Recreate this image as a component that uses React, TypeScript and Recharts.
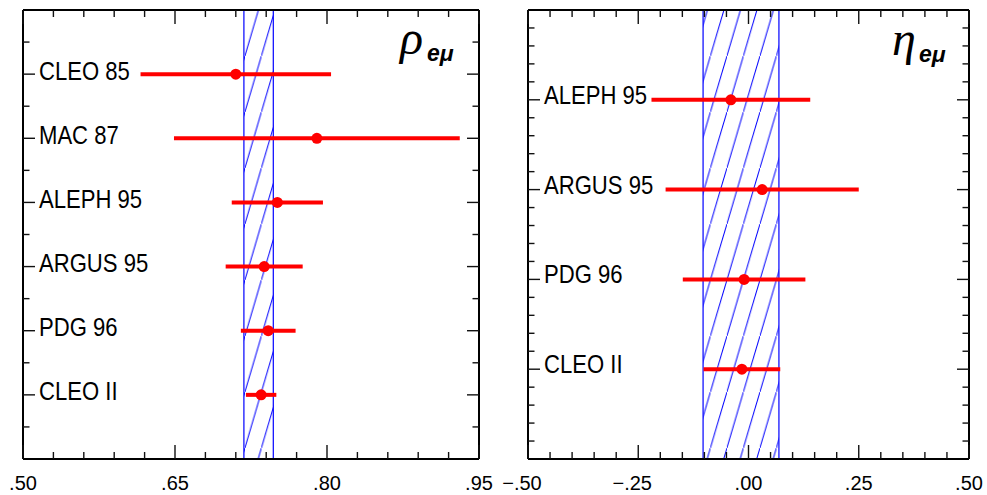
import { ScatterChart, Scatter, XAxis, YAxis, ErrorBar, ReferenceArea } from "recharts";

// ρ_eμ panel
const rhoNames = ["CLEO 85", "MAC 87", "ALEPH 95", "ARGUS 95", "PDG 96", "CLEO II"];
const rhoValues = [0.71, 0.79, 0.751, 0.738, 0.742, 0.735];
const rhoErrors = [0.094, 0.141, 0.045, 0.038, 0.027, 0.015];
const rhoBand = [0.718, 0.747];
const rhoXTicks = [0.5, 0.53, 0.56, 0.59, 0.62, 0.65, 0.68, 0.71, 0.74, 0.77, 0.8, 0.83, 0.86, 0.89, 0.92, 0.95];
const rhoXMajor = [0.5, 0.65, 0.8, 0.95];
const rhoXLabels = [".50", ".65", ".80", ".95"];
const rhoYTicks = [0.5, 1, 1.5, 2, 2.5, 3, 3.5, 4, 4.5, 5, 5.5, 6, 6.5];

// η_eμ panel
const etaNames = ["ALEPH 95", "ARGUS 95", "PDG 96", "CLEO II"];
const etaValues = [-0.04, 0.031, -0.01, -0.015];
const etaErrors = [0.18, 0.219, 0.139, 0.087];
const etaBand = [-0.103, 0.069];
const etaXTicks = [-0.5, -0.45, -0.4, -0.35, -0.3, -0.25, -0.2, -0.15, -0.1, -0.05, 0, 0.05, 0.1, 0.15, 0.2, 0.25, 0.3, 0.35, 0.4, 0.45, 0.5];
const etaXMajor = [-0.5, -0.25, 0, 0.25, 0.5];
const etaXLabels = ["−.50", "−.25", ".00", ".25", ".50"];
const etaYTicks = [0.2, 0.4, 0.6, 0.8, 1, 1.2, 1.4, 1.6, 1.8, 2, 2.2, 2.4, 2.6, 2.8, 3, 3.2, 3.4, 3.6, 3.8, 4, 4.2, 4.4, 4.6, 4.8];

const FONT = "'Liberation Sans', Arial, sans-serif";
const TICK = "#111";

const findIdx = (v: number, list: number[]) => list.findIndex((m) => Math.abs(m - v) < 1e-6);

const xTick = (side: "top" | "bottom", majors: number[], labels: string[]) => (p: any) => {
  const i = findIdx(p.payload.value, majors);
  const len = i >= 0 ? 14 : 7;
  const dir = side === "bottom" ? -1 : 1;
  const label = i >= 0 ? labels[i] : "";
  return (
    <g>
      <line x1={p.x} x2={p.x} y1={p.y} y2={p.y + dir * len} stroke={TICK} strokeWidth={1.4} />
      {side === "bottom" && label && (
        <text x={p.x + (label.startsWith("−") ? -6 : 0)} y={p.y + 31} textAnchor="middle" fontSize={20} fontFamily={FONT} fill="#000">
          {label}
        </text>
      )}
    </g>
  );
};

const yTick = (side: "left" | "right", names: string[], dx: number, dy: number) => (p: any) => {
  const v = p.payload.value;
  const row = Math.abs(v - Math.round(v)) < 1e-6 ? Math.round(v) : 0;
  const len = row ? 12 : 6.5;
  const dir = side === "left" ? 1 : -1;
  const name = side === "left" && row > 0 ? names[row - 1] : undefined;
  return (
    <g>
      <line x1={p.x} x2={p.x + dir * len} y1={p.y} y2={p.y} stroke={TICK} strokeWidth={1.4} />
      {name && (
        <text transform={`translate(${p.x + dx},${p.y + dy}) scale(0.85,1)`} fontSize={26} fontFamily={FONT} fill="#000">
          {name}
        </text>
      )}
    </g>
  );
};

const dot = (p: any) => <circle cx={p.cx} cy={p.cy} r={5.5} fill="#ff0000" />;

interface PanelProps {
  id: string;
  left: number;
  names: string[];
  values: number[];
  errors: number[];
  band: number[];
  xDomain: [number, number];
  xTicks: number[];
  xMajor: number[];
  xLabels: string[];
  yMax: number;
  yTicks: number[];
  leftW: number;
  rightW: number;
  labelDy: number;
  hatchX: number;
  symbol: string;
  symbolX: number;
  symbolY: number;
}

function Panel(props: PanelProps) {
  const data = props.names.map((name, i) => ({ name, x: props.values[i], y: i + 1, err: props.errors[i] }));
  const axisLine = { stroke: "#000", strokeWidth: 2 };
  return (
    <div style={{ position: "absolute", left: props.left, top: 0 }}>
      <ScatterChart width={500} height={495} margin={{ top: 0, right: 0, bottom: 0, left: 0 }}>
        <defs>
          <pattern id={`hatch-${props.id}`} patternUnits="userSpaceOnUse" x={props.hatchX} y={0} width={16.5} height={56}>
            <line x1={-1.65} y1={61.6} x2={18.15} y2={-5.6} stroke="#0000ff" strokeWidth={1} />
          </pattern>
        </defs>
        <XAxis xAxisId="b" dataKey="x" type="number" domain={props.xDomain} ticks={props.xTicks} interval={0} allowDataOverflow
          height={36} tickSize={0} tickMargin={0} tickLine={false} axisLine={axisLine} tick={xTick("bottom", props.xMajor, props.xLabels)} />
        <XAxis xAxisId="t" orientation="top" dataKey="x" type="number" domain={props.xDomain} ticks={props.xTicks} interval={0} allowDataOverflow
          height={10} tickSize={0} tickMargin={0} tickLine={false} axisLine={axisLine} tick={xTick("top", props.xMajor, props.xLabels)} />
        <YAxis yAxisId="l" dataKey="y" type="number" domain={[0, props.yMax]} reversed ticks={props.yTicks} interval={0} allowDataOverflow
          width={props.leftW} tickSize={0} tickMargin={0} tickLine={false} axisLine={axisLine} tick={yTick("left", props.names, 16, props.labelDy)} />
        <YAxis yAxisId="r" orientation="right" dataKey="y" type="number" domain={[0, props.yMax]} reversed ticks={props.yTicks} interval={0} allowDataOverflow
          width={props.rightW} tickSize={0} tickMargin={0} tickLine={false} axisLine={axisLine} tick={yTick("right", props.names, 0, 0)} />
        <ReferenceArea xAxisId="b" yAxisId="l" x1={props.band[0]} x2={props.band[1]} y1={0} y2={props.yMax}
          fill={`url(#hatch-${props.id})`} fillOpacity={1} stroke="#0000ff" strokeWidth={1.2} />
        <Scatter data={data} xAxisId="b" yAxisId="l" shape={dot} isAnimationActive={false}>
          <ErrorBar dataKey="err" direction="x" width={0} stroke="#ff0000" strokeWidth={4} isAnimationActive={false} />
        </Scatter>
        <text x={props.symbolX} y={props.symbolY} fontFamily="'Liberation Serif', 'DejaVu Serif', serif" fontStyle="italic" fontSize={48} fill="#000">
          {props.symbol}
        </text>
        <text x={props.symbolX + 27} y={props.symbolY + 7} fontFamily={FONT} fontStyle="italic" fontWeight="bold" fontSize={23} fill="#000">
          eμ
        </text>
      </ScatterChart>
    </div>
  );
}

export default function App() {
  return (
    <div style={{ position: "absolute", left: 0, top: 0, width: 987, height: 495, background: "#fff" }}>
      <Panel id="rho" left={0} names={rhoNames} values={rhoValues} errors={rhoErrors} band={rhoBand}
        xDomain={[0.5, 0.95]} xTicks={rhoXTicks} xMajor={rhoXMajor} xLabels={rhoXLabels}
        yMax={7} yTicks={rhoYTicks} leftW={23} rightW={21} labelDy={5.5} hatchX={13.9}
        symbol="ρ" symbolX={400} symbolY={54} />
      <Panel id="eta" left={487} names={etaNames} values={etaValues} errors={etaErrors} band={etaBand}
        xDomain={[-0.5, 0.5]} xTicks={etaXTicks} xMajor={etaXMajor} xLabels={etaXLabels}
        yMax={5} yTicks={etaYTicks} leftW={41} rightW={18} labelDy={4} hatchX={8.9}
        symbol="η" symbolX={405} symbolY={55} />
    </div>
  );
}
